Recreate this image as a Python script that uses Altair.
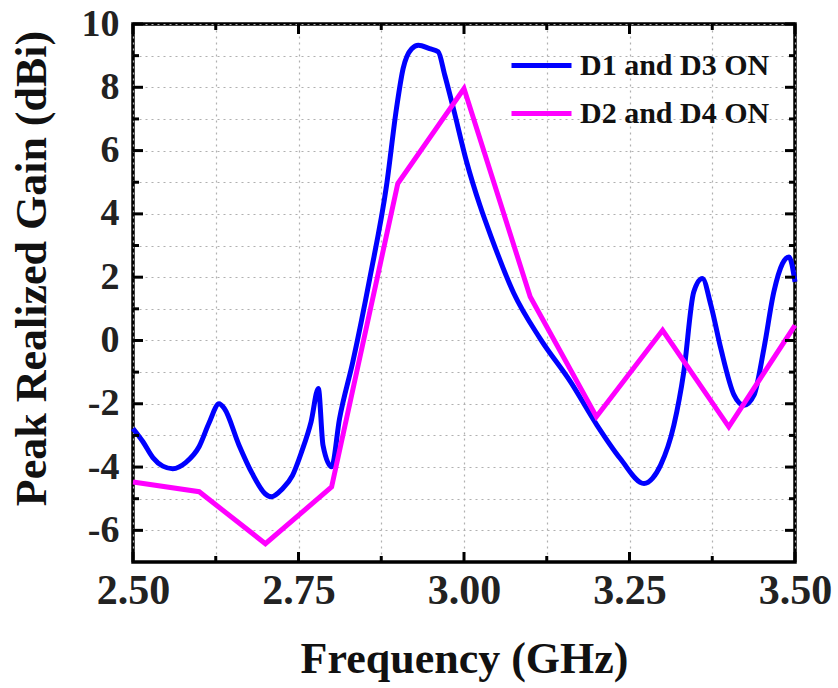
import altair as alt
import pandas as pd

# ---- data ----
blue_x = [2.500, 2.515, 2.530, 2.545, 2.560, 2.580, 2.600, 2.615, 2.630, 2.638, 2.660, 2.680,
          2.700, 2.709, 2.725, 2.741, 2.755, 2.769, 2.780, 2.787, 2.800, 2.812, 2.832, 2.858,
          2.883, 2.898, 2.908, 2.921, 2.931, 2.948, 2.961, 2.971, 2.984, 3.004, 3.024, 3.042,
          3.075, 3.115, 3.161, 3.201, 3.236, 3.272, 3.285, 3.297, 3.317, 3.332, 3.347, 3.360,
          3.373, 3.388, 3.408, 3.423, 3.438, 3.453, 3.468, 3.481, 3.491, 3.500]
blue_y = [-2.78, -3.20, -3.70, -3.97, -4.05, -3.85, -3.35, -2.60, -2.00, -2.15, -3.30, -4.20,
          -4.85, -4.94, -4.70, -4.26, -3.50, -2.57, -1.52, -3.31, -3.99, -2.47, -0.68, 2.00,
          4.90, 7.33, 8.59, 9.22, 9.33, 9.22, 9.12, 8.38, 7.33, 5.64, 4.27, 3.22,
          1.50, 0.06, -1.31, -2.68, -3.73, -4.52, -4.35, -3.94, -2.68, -0.99, 1.53, 1.96,
          1.11, -0.26, -1.73, -2.05, -1.73, -0.26, 1.53, 2.43, 2.64, 1.85]

mag_x = [2.5, 2.6, 2.7, 2.8, 2.9, 3.0, 3.1, 3.2, 3.3, 3.4, 3.5]
mag_y = [-4.47, -4.78, -6.42, -4.63, 4.96, 7.96, 1.38, -2.41, 0.32, -2.73, 0.48]

series_names = ["D1 and D3 ON", "D2 and D4 ON"]
series_colors = ["#0000FF", "#FF00FF"]

x_major = [2.50, 2.75, 3.00, 3.25, 3.50]
x_minor = [2.625, 2.875, 3.125, 3.375]
y_major = [-6, -4, -2, 0, 2, 4, 6, 8, 10]
y_minor = [-5, -3, -1, 1, 3, 5, 7, 9]

W, H = 662, 538
FONT = "Liberation Serif"

df_blue = pd.DataFrame({"f": blue_x, "g": blue_y, "s": series_names[0]})
df_mag = pd.DataFrame({"f": mag_x, "g": mag_y, "s": series_names[1]})

xs = alt.Scale(domain=[2.5, 3.5], nice=False, zero=False)
ys = alt.Scale(domain=[-7, 10], nice=False, zero=False)
cs = alt.Scale(domain=series_names, range=series_colors)

x_all = sorted(x_major + x_minor)
y_all = sorted(y_major + y_minor)

x_axis = alt.Axis(values=x_all, grid=True, ticks=False, domain=False,
                  labelExpr="(round(datum.value*1000) % 250 == 0) ? format(datum.value, '.2f') : ''",
                  labelFont=FONT, labelFontSize=42, labelFontWeight="bold", labelColor="#222",
                  labelPadding=8, labelFlush=False,
                  title="Frequency (GHz)", titleFont=FONT, titleFontSize=44, titleFontWeight="bold",
                  titleColor="#111", titleY=110, titleBaseline="alphabetic",
                  gridColor="#b0b0b0", gridDash=[2, 4], gridWidth=1.2)
y_axis = alt.Axis(values=y_all, grid=True, ticks=False, domain=False,
                  labelExpr="(datum.value % 2 == 0) ? ('' + datum.value) : ''",
                  labelFont=FONT, labelFontSize=38, labelFontWeight="bold", labelColor="#222",
                  labelPadding=14, labelFlush=False,
                  title="Peak Realized Gain (dBi)", titleFont=FONT, titleFontSize=44,
                  titleFontWeight="bold", titleColor="#111",
                  titleX=-88, titleY=244, titleBaseline="alphabetic", titleAlign="center",
                  gridColor="#b0b0b0", gridDash=[2, 4], gridWidth=1.2)

legend = alt.Legend(title=None, orient="none", legendX=376, legendY=9,
                    symbolType="stroke", symbolSize=3600, symbolStrokeWidth=5,
                    labelFont=FONT, labelFontSize=30, labelFontWeight="bold", labelColor="#111",
                    labelOffset=6, labelLimit=500, rowPadding=0, padding=0, symbolOffset=0)

X = lambda: alt.X("f:Q", scale=xs, axis=x_axis)
Y = lambda: alt.Y("g:Q", scale=ys, axis=y_axis)

lines_blue = alt.Chart(df_blue).mark_line(strokeWidth=5, interpolate="monotone").encode(
    x=X(), y=Y(), color=alt.Color("s:N", scale=cs, legend=legend),
)
lines_mag = alt.Chart(df_mag).mark_line(strokeWidth=5).encode(
    x=X(), y=Y(), color=alt.Color("s:N", scale=cs, legend=legend),
)

def xticks(vals, length):
    d = pd.DataFrame({"f": vals})
    bot = alt.Chart(d).mark_rule(color="black", strokeWidth=3).encode(
        x=X(), y=alt.value(H), y2=alt.value(H - length))
    top = alt.Chart(d).mark_rule(color="black", strokeWidth=3).encode(
        x=X(), y=alt.value(0), y2=alt.value(length))
    return [bot, top]

def yticks(vals, length):
    d = pd.DataFrame({"g": vals})
    left = alt.Chart(d).mark_rule(color="black", strokeWidth=3).encode(
        y=Y(), x=alt.value(0), x2=alt.value(length))
    right = alt.Chart(d).mark_rule(color="black", strokeWidth=3).encode(
        y=Y(), x=alt.value(W - length), x2=alt.value(W))
    return [left, right]

tick_layers = xticks(x_major, 10) + xticks(x_minor, 6) + yticks(y_major, 10) + yticks(y_minor, 6)

chart = alt.layer(lines_blue, lines_mag, *tick_layers).properties(
    width=W, height=H,
    autosize=alt.AutoSizeParams(type="none"),
    padding={"left": 133, "top": 24, "right": 838 - 133 - W, "bottom": 688 - 24 - H},
    background="white",
).configure_view(stroke="black", strokeWidth=3.5)

chart.save("out.html", embed_options={"renderer": "svg", "actions": False})
